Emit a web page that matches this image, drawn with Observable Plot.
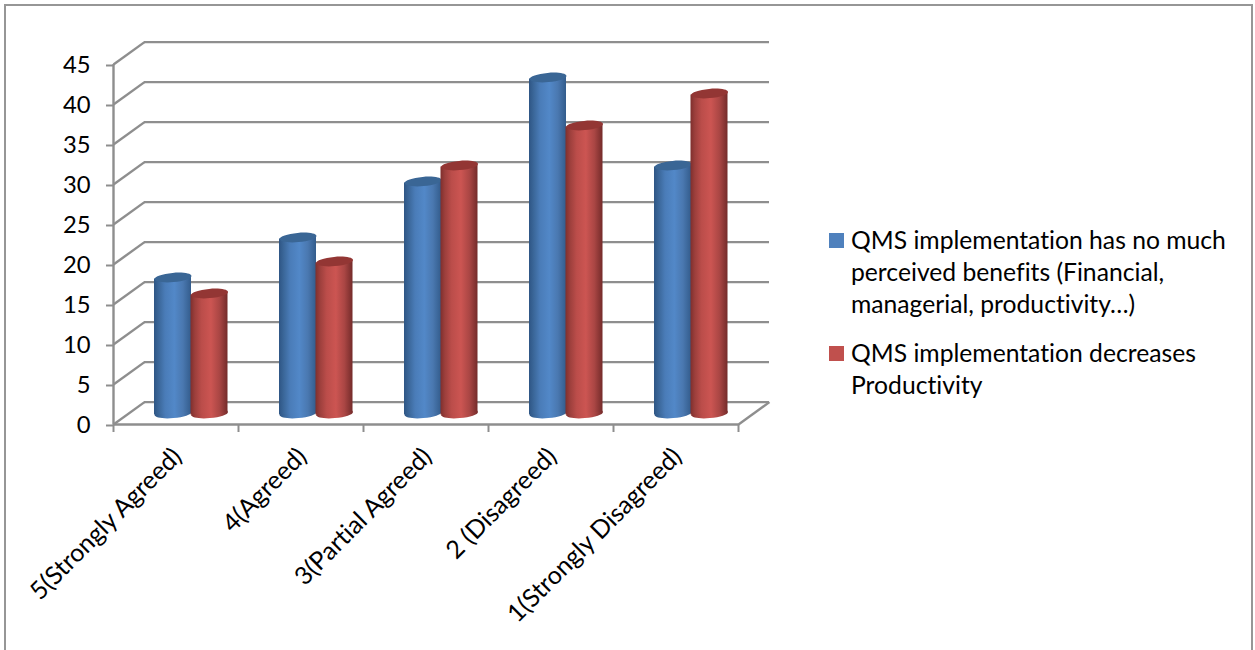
<!DOCTYPE html>
<html>
<head>
<meta charset="utf-8">
<script src="https://cdn.jsdelivr.net/npm/d3@7"></script>
<script src="https://cdn.jsdelivr.net/npm/@observablehq/plot@0.6"></script>
<style>
  html, body { margin: 0; background: #fff; overflow: hidden; }
  #chart { position: relative; width: 1255px; height: 650px; font-family: Lato, sans-serif; color: #000; font-variant-ligatures: none; }
  #frame { position: absolute; left: 4px; top: 4px; width: 1249px; height: 660px; border: 2px solid #969696; box-sizing: border-box; }
  #plot { position: absolute; left: 0; top: 0; }
  .entry { position: absolute; left: 829px; font-size: 24.7px; line-height: 32px; }
  .entry i { position: absolute; left: 0; top: 9px; width: 15px; height: 15px; }
  .entry span { display: block; margin-left: 22px; white-space: nowrap; }
</style>
</head>
<body>
<div id="chart">
  <div id="frame"></div>
  <div id="plot"></div>
</div>
<script>
// Survey answers per agreement level
const categories = ["5(Strongly Agreed)", "4(Agreed)", "3(Partial Agreed)", "2 (Disagreed)", "1(Strongly Disagreed)"];
const noBenefits = [17, 22, 29, 42, 31];
const lowerProductivity = [15, 19, 31, 36, 40];
const yTicks = [0, 5, 10, 15, 20, 25, 30, 35, 40, 45];
const xTicks = [0, 1, 2, 3, 4, 5];
const legendNoBenefits = ["QMS implementation has no much", "perceived benefits (Financial,", "managerial, productivity…)"];
const legendLowerProductivity = ["QMS implementation decreases", "Productivity"];

// Oblique projection, in data units: how far the back wall is shifted from the front
const depthX = 0.248;
const depthY = 2.8;
const gridStroke = "#8e8e8e";
const gridWidth = 2.4;

// Cylinder placement inside a category band, and the tilt of its end caps
const cylinderWidth = 0.296;
const cylinderRadius = 18.5;
const tiltY = 0.2;
const tiltAngle = -5 * Math.PI / 180;
const capRatio = 0.25;

// A tilted ellipse drawn from four bezier arcs, used for the cylinder caps
const capSymbol = {
  draw(ctx, size) {
    const rx = Math.sqrt(size / Math.PI), ry = rx * capRatio, k = 0.5523;
    const c = Math.cos(tiltAngle), s = Math.sin(tiltAngle);
    const p = (x, y) => [x * c - y * s, x * s + y * c];
    ctx.moveTo(...p(rx, 0));
    ctx.bezierCurveTo(...p(rx, k * ry), ...p(k * rx, ry), ...p(0, ry));
    ctx.bezierCurveTo(...p(-k * rx, ry), ...p(-rx, k * ry), ...p(-rx, 0));
    ctx.bezierCurveTo(...p(-rx, -k * ry), ...p(-k * rx, -ry), ...p(0, -ry));
    ctx.bezierCurveTo(...p(k * rx, -ry), ...p(rx, -k * ry), ...p(rx, 0));
    ctx.closePath();
  }
};

// Horizontal shading that gives each cylinder its round look
const series = [
  {
    id: "blue", values: noBenefits, start: 0.328, cap: "#3a6695", swatch: "#4f81bd",
    stops: [[0, "#2e5584"], [0.12, "#3a6698"], [0.3, "#4a7cb8"], [0.55, "#5288c8"], [0.78, "#4a78b0"], [1, "#335c8c"]]
  },
  {
    id: "red", values: lowerProductivity, start: 0.62, cap: "#933634", swatch: "#c0504d",
    stops: [[0, "#7e2f2d"], [0.12, "#9c3f3c"], [0.3, "#bb4d4a"], [0.55, "#cc5552"], [0.78, "#aa4644"], [1, "#742b2a"]]
  }
];

const gradients = () => {
  const defs = d3.create("svg:defs");
  for (const s of series) {
    const g = defs.append("linearGradient").attr("id", "shade-" + s.id)
      .attr("x1", 0).attr("x2", 1).attr("y1", 0).attr("y2", 0);
    for (const [offset, color] of s.stops) g.append("stop").attr("offset", offset).attr("stop-color", color);
  }
  return defs.node();
};

const cylinderMarks = (s) => {
  const midY = 1.375;
  const fill = `url(#shade-${s.id})`;
  const rows = s.values.map((value, i) => ({value, i, cx: i + s.start + cylinderWidth / 2}));
  const body = rows.flatMap((d) => [
    {i: d.i, x: d.i + s.start, y1: midY - tiltY, y2: d.value + midY - tiltY},
    {i: d.i, x: d.i + s.start + cylinderWidth, y1: midY + tiltY, y2: d.value + midY + tiltY}
  ]);
  return [
    Plot.dot(rows, {x: "cx", y: () => midY, r: cylinderRadius, symbol: capSymbol, fill}),
    Plot.area(body, {x1: "x", y1: "y1", y2: "y2", z: "i", fill}),
    Plot.dot(rows, {x: "cx", y: (d) => d.value + midY, r: cylinderRadius, symbol: capSymbol, fill: s.cap})
  ];
};

const chart = Plot.plot({
  width: 1255,
  height: 650,
  marginLeft: 113,
  marginRight: 517,
  marginTop: 64,
  marginBottom: 226,
  style: {fontFamily: "Lato, sans-serif", background: "transparent"},
  x: {domain: [0, 5]},
  y: {domain: [0, 45]},
  marks: [
    gradients,
    // Back wall gridlines and their run along the side wall
    Plot.ruleY(yTicks, {x1: () => depthX, x2: () => 5 + depthX, y: (d) => d + depthY, stroke: gridStroke, strokeWidth: gridWidth}),
    Plot.link(yTicks, {x1: () => 0, x2: () => depthX, y1: (d) => d, y2: (d) => d + depthY, stroke: gridStroke, strokeWidth: gridWidth}),
    Plot.link([5], {x1: (d) => d, x2: (d) => d + depthX, y1: () => 0, y2: () => depthY, stroke: gridStroke, strokeWidth: gridWidth}),
    // Front axis lines
    Plot.ruleY([0], {x1: () => 0, x2: () => 5, stroke: gridStroke, strokeWidth: gridWidth}),
    Plot.ruleX([0], {y1: () => 0, y2: () => 45, stroke: gridStroke, strokeWidth: gridWidth}),
    Plot.axisY({ticks: yTicks, label: null, tickSize: 7, tickPadding: 16, fontSize: 23.8, stroke: gridStroke, strokeWidth: 2, fill: "#000", strokeOpacity: 1, dy: 1}),
    Plot.axisX({ticks: xTicks, label: null, tickSize: 8, tickFormat: () => "", stroke: gridStroke, strokeWidth: 2, strokeOpacity: 1}),
    Plot.text(categories, {
      x: (d, i) => i + 0.5,
      y: () => 0,
      text: (d) => d,
      rotate: -45,
      textAnchor: "end",
      dx: 1.5,
      dy: 28,
      fontSize: 25,
      fill: "#000"
    }),
    ...series.flatMap(cylinderMarks)
  ]
});
document.getElementById("plot").append(chart);

// Legend entries sit beside the plot
const chartEl = document.getElementById("chart");
[[legendNoBenefits, series[0], 224], [legendLowerProductivity, series[1], 337]].forEach(([lines, s, top]) => {
  const entry = document.createElement("div");
  entry.className = "entry";
  entry.style.top = top + "px";
  const swatch = document.createElement("i");
  swatch.style.background = s.swatch;
  entry.append(swatch);
  for (const line of lines) {
    const span = document.createElement("span");
    span.textContent = line;
    entry.append(span);
  }
  chartEl.append(entry);
});
</script>
</body>
</html>
